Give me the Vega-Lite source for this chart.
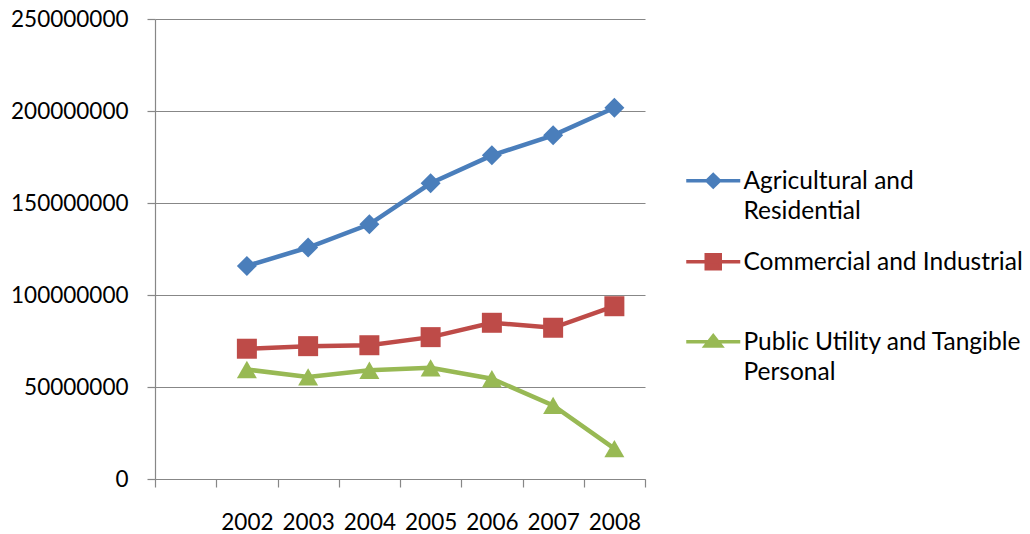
{
  "$schema": "https://vega.github.io/schema/vega-lite/v6.json",
  "width": 490,
  "height": 460,
  "autosize": {"type": "none"},
  "padding": {"left": 155, "top": 19, "right": 385, "bottom": 55},
  "background": "white",
  "config": {
    "view": {"stroke": null},
    "font": "Lato",
    "axis": {
      "labelFont": "Lato",
      "labelFontSize": 22.5,
      "labelColor": "#000000",
      "domainColor": "#878787",
      "tickColor": "#878787",
      "gridColor": "#878787",
      "domainWidth": 1.2,
      "tickWidth": 1.2,
      "gridWidth": 1.2,
      "tickSize": 8,
      "title": null
    }
  },
  "data": {
    "values": [
      {"year": "2002", "series": "Agricultural and Residential", "value": 115800000},
      {"year": "2003", "series": "Agricultural and Residential", "value": 125800000},
      {"year": "2004", "series": "Agricultural and Residential", "value": 138400000},
      {"year": "2005", "series": "Agricultural and Residential", "value": 160700000},
      {"year": "2006", "series": "Agricultural and Residential", "value": 175900000},
      {"year": "2007", "series": "Agricultural and Residential", "value": 186800000},
      {"year": "2008", "series": "Agricultural and Residential", "value": 201800000},
      {"year": "2002", "series": "Commercial and Industrial", "value": 70800000},
      {"year": "2003", "series": "Commercial and Industrial", "value": 72200000},
      {"year": "2004", "series": "Commercial and Industrial", "value": 72700000},
      {"year": "2005", "series": "Commercial and Industrial", "value": 77100000},
      {"year": "2006", "series": "Commercial and Industrial", "value": 84900000},
      {"year": "2007", "series": "Commercial and Industrial", "value": 82200000},
      {"year": "2008", "series": "Commercial and Industrial", "value": 93900000},
      {"year": "2002", "series": "Public Utility and Tangible Personal", "value": 59500000},
      {"year": "2003", "series": "Public Utility and Tangible Personal", "value": 55500000},
      {"year": "2004", "series": "Public Utility and Tangible Personal", "value": 59100000},
      {"year": "2005", "series": "Public Utility and Tangible Personal", "value": 60400000},
      {"year": "2006", "series": "Public Utility and Tangible Personal", "value": 54500000},
      {"year": "2007", "series": "Public Utility and Tangible Personal", "value": 40000000},
      {"year": "2008", "series": "Public Utility and Tangible Personal", "value": 16500000}
    ]
  },
  "encoding": {
    "x": {
      "field": "year",
      "type": "ordinal",
      "bandPosition": 0.5,
      "scale": {
        "type": "band",
        "domain": ["", "2002", "2003", "2004", "2005", "2006", "2007", "2008"],
        "paddingInner": 0,
        "paddingOuter": 0
      },
      "axis": {
        "tickBand": "extent",
        "labelAngle": 0,
        "labelPadding": 24,
        "grid": false
      }
    },
    "y": {
      "field": "value",
      "type": "quantitative",
      "scale": {"domain": [0, 250000000], "nice": false},
      "axis": {
        "values": [0, 50000000, 100000000, 150000000, 200000000, 250000000],
        "format": "d",
        "grid": true,
        "labelPadding": 19
      }
    },
    "color": {
      "field": "series",
      "type": "nominal",
      "scale": {
        "domain": ["Agricultural and Residential", "Commercial and Industrial", "Public Utility and Tangible Personal"],
        "range": ["#4A7EBB", "#BE4B48", "#98B954"]
      },
      "legend": {
        "title": null,
        "orient": "none",
        "legendX": 546,
        "legendY": 158,
        "padding": 0,
        "direction": "vertical",
        "symbolSize": 400,
        "symbolStrokeWidth": 3.5,
        "labelFont": "Lato",
        "labelFontSize": 24.5,
        "labelColor": "#000000",
        "labelLimit": 400,
        "labelOffset": 18,
        "labelBaseline": "alphabetic",
        "rowPadding": 23,
        "labelExpr": "datum.value == 'Agricultural and Residential' ? ['Agricultural and', 'Residential'] : datum.value == 'Commercial and Industrial' ? ['Commercial and Industrial', ''] : ['Public Utility and Tangible', 'Personal']",
        "encode": {
          "labels": {"update": {"lineHeight": {"value": 30}}},
          "symbols": {
            "update": {
              "shape": {"signal": "datum.value == 'Agricultural and Residential' ? 'M-2.7,-0.85H2.7M0,-1.45L0.62,-0.85L0,-0.25L-0.62,-0.85Z' : datum.value == 'Commercial and Industrial' ? 'M-2.7,-0.85H2.7M-0.7,-1.55H0.7V-0.15H-0.7Z' : 'M-2.7,-0.85H2.7M0,-1.45L0.8,-0.42L-0.8,-0.42Z'"},
              "fill": {"scale": "color", "field": "value"},
              "stroke": {"scale": "color", "field": "value"},
              "strokeWidth": {"value": 3.5},
              "fillOpacity": {"value": 1},
              "strokeOpacity": {"value": 1}
            }
          }
        }
      }
    }
  },
  "layer": [
    {
      "mark": {"type": "line", "strokeWidth": 4.5}
    },
    {
      "mark": {"type": "point", "filled": true, "opacity": 1, "size": 400},
      "encoding": {
        "shape": {
          "field": "series",
          "type": "nominal",
          "scale": {"range": ["diamond", "square", "triangle-up"]},
          "legend": null
        }
      }
    }
  ]
}
